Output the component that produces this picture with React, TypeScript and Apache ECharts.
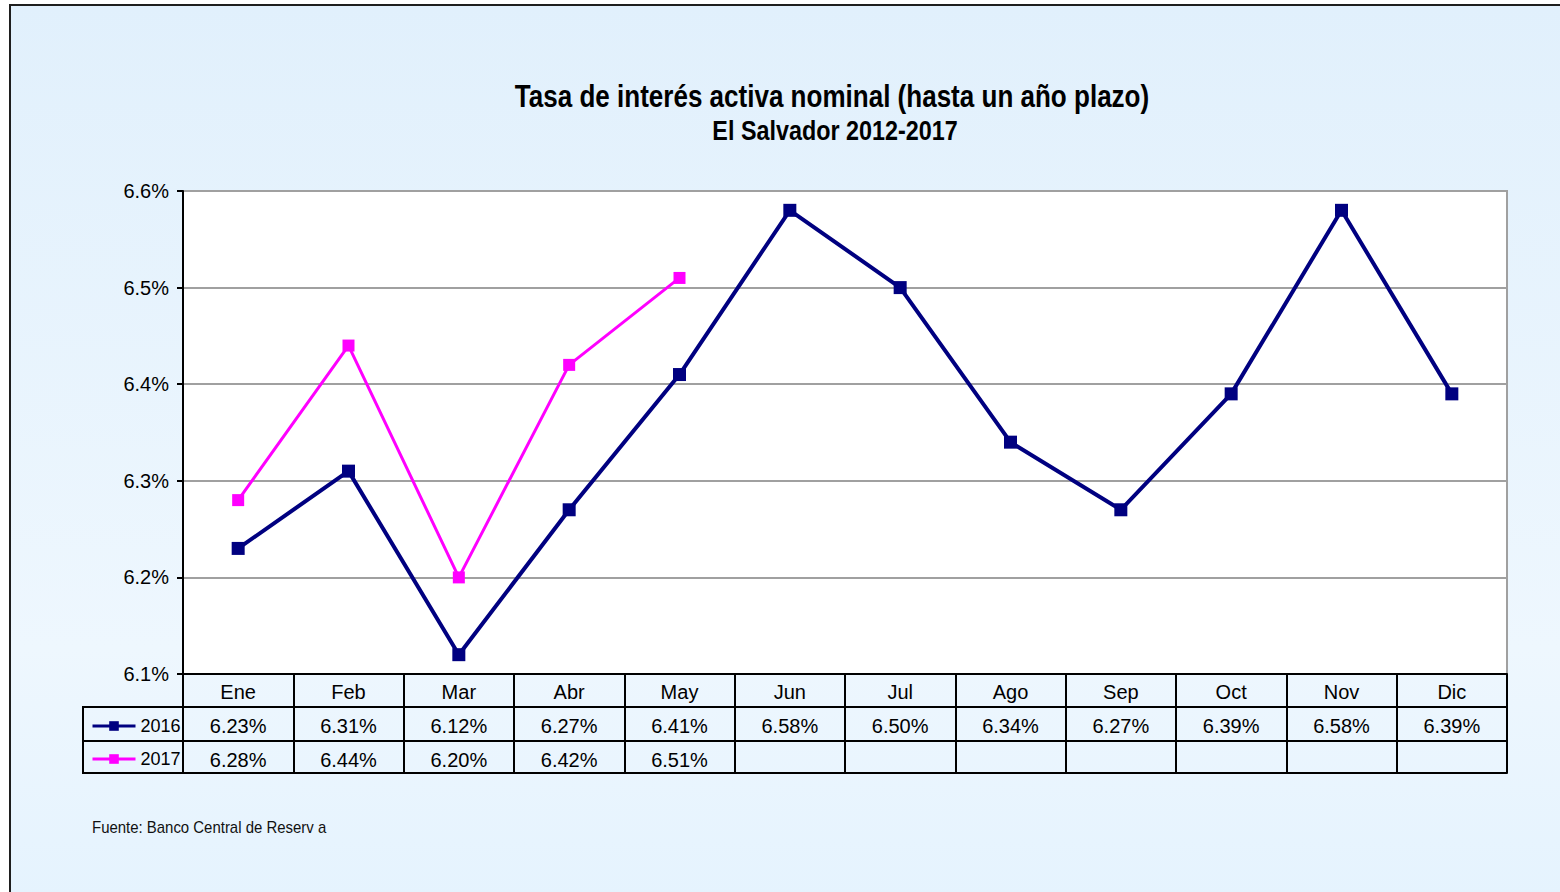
import React, { useEffect, useRef } from "react";
import * as echarts from "echarts";

const FONT = "'Liberation Sans', Arial, sans-serif";

const months = ["Ene", "Feb", "Mar", "Abr", "May", "Jun", "Jul", "Ago", "Sep", "Oct", "Nov", "Dic"];
const seriesNames = ["2016", "2017"];
const values2016 = [6.23, 6.31, 6.12, 6.27, 6.41, 6.58, 6.5, 6.34, 6.27, 6.39, 6.58, 6.39];
const values2017 = [6.28, 6.44, 6.2, 6.42, 6.51];
const seriesColors = ["#000080", "#ff00ff"];
const titleText = "Tasa de interés activa nominal (hasta un año plazo)";
const subtitleText = "El Salvador 2012-2017";
const sourceText = "Fuente: Banco Central de Reserv a";
const yMin = 6.1;
const yMax = 6.6;
const yStep = 0.1;

const fmtPct = (v: number | undefined) => (v == null ? "" : v.toFixed(2) + "%");

export default function App() {
  const ref = useRef<HTMLDivElement>(null);

  useEffect(() => {
    if (!ref.current) return;
    const chart = echarts.init(ref.current, null, { renderer: "svg" });
    const black = "#000000";
    const tableAxis = (offset: number, vals: number[] | null) => ({
      type: "category",
      data: months,
      position: "bottom",
      offset,
      boundaryGap: true,
      axisLine: { show: true, lineStyle: { color: black, width: 2 } },
      axisTick: { show: false },
      axisLabel: {
        show: !!vals,
        interval: 0,
        margin: 9,
        fontFamily: FONT,
        fontSize: 20,
        color: black,
        formatter: (_v: string, i: number) => (vals ? fmtPct(vals[i]) : ""),
      },
      splitLine: { show: false },
    });

    chart.setOption({
      animation: false,
      textStyle: { fontFamily: FONT },
      grid: {
        left: 183,
        right: 53,
        top: 191,
        bottom: 218,
        show: true,
        backgroundColor: "#ffffff",
        borderColor: "#a0a0a0",
        borderWidth: 2,
      },
      legend: {
        orient: "vertical",
        left: 91,
        top: 716,
        padding: 0,
        itemWidth: 43,
        itemHeight: 12,
        itemGap: 13,
        data: seriesNames,
        lineStyle: { width: 3 },
        textStyle: { fontFamily: FONT, fontSize: 18, color: black, lineHeight: 20 },
      },
      graphic: [
        {
          type: "rect",
          z: -100,
          silent: true,
          shape: { x: 10, y: 5, width: 1562, height: 892 },
          style: {
            fill: {
              type: "linear",
              x: 0,
              y: 0,
              x2: 0,
              y2: 1,
              colorStops: [
                { offset: 0, color: "#e1f0fc" },
                { offset: 0.72, color: "#eef7fe" },
                { offset: 1, color: "#e5f3fe" },
              ],
            },
            stroke: "#1e1e1e",
            lineWidth: 2,
          },
        },
        {
          type: "text",
          x: 832,
          y: 96,
          scaleX: 0.84,
          style: {
            text: titleText,
            fontFamily: FONT,
            fontSize: 31,
            fontWeight: "bold",
            fill: black,
            textAlign: "center",
            textVerticalAlign: "middle",
          },
        },
        {
          type: "text",
          x: 835,
          y: 130,
          scaleX: 0.865,
          style: {
            text: subtitleText,
            fontFamily: FONT,
            fontSize: 27,
            fontWeight: "bold",
            fill: black,
            textAlign: "center",
            textVerticalAlign: "middle",
          },
        },
        {
          type: "text",
          x: 92,
          y: 827,
          scaleX: 0.935,
          style: {
            text: sourceText,
            fontFamily: FONT,
            fontSize: 16,
            fill: "#111111",
            textAlign: "left",
            textVerticalAlign: "middle",
          },
        },
        {
          type: "rect",
          shape: { x: 83, y: 707, width: 100, height: 66 },
          style: { fill: "none", stroke: black, lineWidth: 2 },
        },
        {
          type: "line",
          shape: { x1: 83, y1: 741, x2: 183, y2: 741 },
          style: { stroke: black, lineWidth: 2 },
        },
      ],
      xAxis: [
        {
          type: "category",
          data: months,
          position: "bottom",
          boundaryGap: true,
          axisLine: { show: true, lineStyle: { color: black, width: 2 } },
          axisTick: { show: true, length: 99, interval: 0, lineStyle: { color: black, width: 2 } },
          axisLabel: { interval: 0, margin: 8, fontFamily: FONT, fontSize: 20, color: black },
          splitLine: { show: false },
        },
        tableAxis(33, values2016),
        tableAxis(67, values2017),
        tableAxis(99, null),
      ],
      yAxis: {
        type: "value",
        min: yMin,
        max: yMax,
        interval: yStep,
        axisLine: { show: true, lineStyle: { color: black, width: 2 } },
        axisTick: { show: true, length: 6, lineStyle: { color: black, width: 2 } },
        axisLabel: {
          margin: 14,
          fontFamily: FONT,
          fontSize: 20,
          color: black,
          formatter: (v: number) => v.toFixed(1) + "%",
        },
        splitLine: { show: true, lineStyle: { color: "#a0a0a0", width: 2 } },
      },
      series: [
        {
          name: seriesNames[0],
          type: "line",
          xAxisIndex: 0,
          data: values2016,
          symbol: "rect",
          symbolSize: 13,
          lineStyle: { color: seriesColors[0], width: 4 },
          itemStyle: { color: seriesColors[0] },
          z: 3,
        },
        {
          name: seriesNames[1],
          type: "line",
          xAxisIndex: 0,
          data: values2017,
          symbol: "rect",
          symbolSize: 12,
          lineStyle: { color: seriesColors[1], width: 3 },
          itemStyle: { color: seriesColors[1] },
          z: 2,
        },
      ],
    });
    return () => chart.dispose();
  }, []);

  return (
    <div
      ref={ref}
      style={{ position: "fixed", left: 0, top: 0, width: 1560, height: 892, background: "#ffffff" }}
    />
  );
}
